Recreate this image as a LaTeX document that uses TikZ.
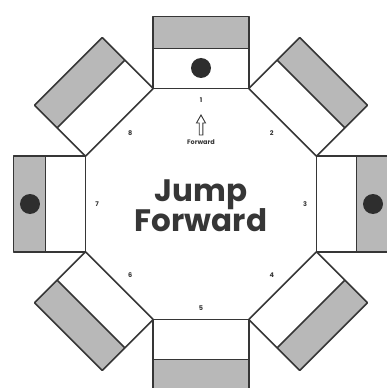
\documentclass[tikz,border=0pt]{standalone}
\usepackage{fontspec}
\setsansfont{Poppins}
\definecolor{boxgray}{HTML}{B8B8B8}
\definecolor{linec}{HTML}{363636}
\definecolor{dotc}{HTML}{2E2E2E}
\tikzset{
  frame/.style={draw=linec, line width=1.6pt, line join=round},
  num/.style={font=\sffamily\bfseries\fontsize{6.5}{7}\selectfont, text=linec, inner sep=0pt},
  title/.style={font=\sffamily\bfseries\fontsize{31}{34}\selectfont, text=linec, inner sep=0pt, anchor=base},
  small/.style={font=\sffamily\bfseries\fontsize{6.5}{7}\selectfont, text=linec, inner sep=0pt},
  dot/.style={fill=dotc}
}
\begin{document}
\begin{tikzpicture}[x=1pt,y=1pt]
\useasboundingbox (-201,-184) rectangle (185,204);
\def\a{115.5}
\def\s{47.85}
\foreach \k in {1,...,8} {
  \begin{scope}[rotate={-45*(\k-1)}]
    \fill[white] (-\s,\a) rectangle (\s,\a+40);
    \fill[boxgray] (-\s,\a+40) rectangle (\s,\a+72);
    \draw[frame] (-\s,\a) rectangle (\s,\a+72);
    \draw[frame] (-\s,\a+40) -- (\s,\a+40);
  \end{scope}
}
\fill[dot] (0,136) circle (10);
\fill[dot] (-171,0) circle (10);
\fill[dot] (172,0) circle (10);
\foreach \k/\r in {1/104,2/100,3/104,4/100,5/104,6/100,7/104,8/100} {
  \node[num] (n\k) at ({90-45*(\k-1)}:\r) {\k};
}
\node[title] (jump) at (0,3) {Jump};
\node[title] (fwd) at (0,-27) {Forward};
\draw[linec, line width=0.9pt, line join=miter, fill=white]
  (0,89) -- (4.5,81) -- (1.8,81) -- (1.8,69) -- (-1.8,69) -- (-1.8,81) -- (-4.5,81) -- cycle;
\node[small] (fsmall) at (0,62) {Forward};
\end{tikzpicture}
\end{document}
